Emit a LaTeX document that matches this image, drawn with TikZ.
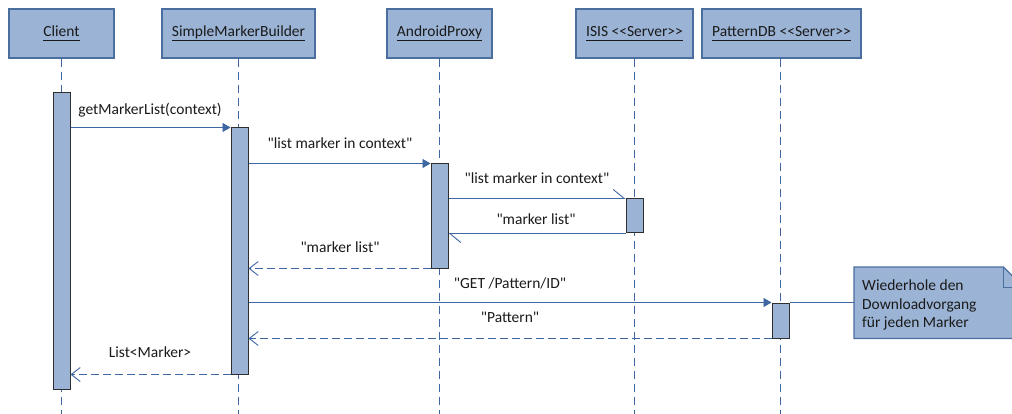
\documentclass[tikz,border=0pt]{standalone}
\usepackage{fontspec}
\newfontfamily\calib{Carlito}
\usetikzlibrary{arrows.meta}
\definecolor{boxfill}{HTML}{9BB3D5}
\definecolor{boxline}{HTML}{4A6E9E}
\definecolor{msgline}{HTML}{3E66A1}
\definecolor{barline}{HTML}{2E2E2E}
\definecolor{txt}{HTML}{1A1A1A}
\newcommand\hdrul[1]{\raisebox{-2pt}{\underline{#1\vphantom{p}}}}
\begin{document}
\begin{tikzpicture}[x=1pt,y=-1pt,
  font=\calib\fontsize{15.5}{18.5}\selectfont, text=txt,
  header/.style={draw=boxline, line width=1.2pt, fill=boxfill, minimum height=49pt, inner sep=0pt},
  actbar/.style={draw=barline, line width=1pt, fill=boxfill, minimum width=17pt, inner sep=0pt},
  lifeline/.style={draw=msgline, line width=1pt, dash pattern=on 8pt off 5pt},
  callmsg/.style={draw=msgline, line width=0.9pt, -{Triangle[length=8pt,width=9pt]}},
  asyncmsg/.style={draw=msgline, line width=0.9pt, -{Straight Barb[harpoon,length=11pt,width=18pt]}},
  retmsg/.style={draw=msgline, line width=0.9pt, dash pattern=on 8pt off 4pt, -{Straight Barb[length=9pt,width=14pt]}},
  lbl/.style={inner sep=0pt},
  notebox/.style={draw=boxline, line width=1.2pt, fill=boxfill},
]
\useasboundingbox (0,0) rectangle (1012,414);
\clip (0,0) rectangle (1012,414);
\coordinate (bot) at (0,414);

% headers
\node[header, minimum width=105pt] (hc) at (61.5,33.5) {\hdrul{Client}};
\node[header, minimum width=153pt] (hs) at (238.5,33.5) {\hdrul{SimpleMarkerBuilder}};
\node[header, minimum width=105pt] (ha) at (439.5,33.5) {\hdrul{AndroidProxy}};
\node[header, minimum width=117pt] (hi) at (634.5,33.5) {\hdrul{ISIS <<Server>>}};
\node[header, minimum width=159pt] (hp) at (781.5,33.5) {\hdrul{PatternDB <<Server>>}};

% lifelines
\draw[lifeline] (hc.south) -- (hc.south |- bot);
\draw[lifeline] (hs.south) -- (hs.south |- bot);
\draw[lifeline] (ha.south) -- (ha.south |- bot);
\draw[lifeline] (hi.south) -- (hi.south |- bot);
\draw[lifeline] ([xshift=-1.5pt]hp.south) -- ([xshift=-1.5pt]hp.south |- bot);

% activation bars
\node[actbar, minimum height=296pt] (cb) at (61.5,241) {};
\node[actbar, minimum height=246pt] (sb) at (239.5,251) {};
\node[actbar, minimum height=104pt] (ab) at (439.5,216) {};
\node[actbar, minimum height=34pt] (ib) at (634.5,216) {};
\node[actbar, minimum height=35pt] (pb) at (780.5,320.5) {};

% note
\node[inner sep=0pt, minimum width=169pt, minimum height=71pt, anchor=north west] (note) at (854,267) {};
\path[notebox] (note.north west) -- ([xshift=-20pt]note.north east) -- ([yshift=-20pt]note.north east) -- (note.south east) -- (note.south west) -- cycle;
\draw[boxline, line width=1pt] ([xshift=-20pt]note.north east) -- ([xshift=-20pt,yshift=-20pt]note.north east) -- ([yshift=-20pt]note.north east);
\node[lbl, align=left, anchor=west] (notetext) at (862,305) {Wiederhole den\\Downloadvorgang\\für jeden Marker};

% messages
\draw[callmsg] (cb.east |- sb.north west) -- (sb.north west);
\draw[callmsg] (sb.east |- ab.north west) -- (ab.north west);
\draw[asyncmsg] (ab.east |- ib.north west) -- (ib.north west);
\draw[asyncmsg] (ib.south west) -- (ab.east |- ib.south west);
\draw[retmsg] (ab.south west) -- (sb.east |- ab.south west);
\draw[callmsg] (sb.east |- pb.north west) -- (pb.north west);
\draw[draw=msgline, line width=0.9pt] (pb.north east) -- (note.west |- pb.north east);
\draw[retmsg] (pb.south west) -- (sb.east |- pb.south west);
\draw[retmsg] (sb.south west) -- (cb.east |- sb.south west);

% labels
\node[lbl] (l1) at (150,110) {getMarkerList(context)};
\node[lbl] (l2) at (340,143) {"list marker in context"};
\node[lbl] (l3) at (537,178) {"list marker in context"};
\node[lbl] (l4) at (536,219) {"marker list"};
\node[lbl] (l5) at (340,247) {"marker list"};
\node[lbl] (l6) at (510,283) {"GET /Pattern/ID"};
\node[lbl] (l7) at (510,317) {"Pattern"};
\node[lbl] (l8) at (150,352) {List<Marker>};
\end{tikzpicture}
\end{document}
